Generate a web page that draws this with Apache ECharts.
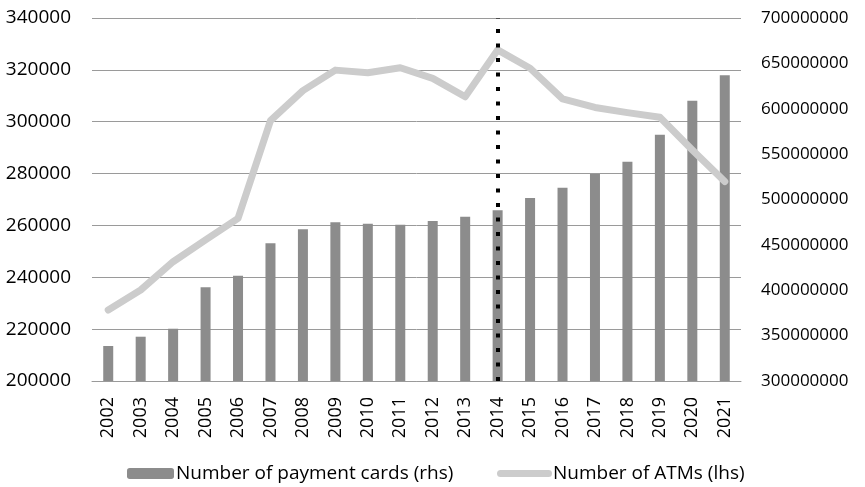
<!DOCTYPE html>
<html>
<head>
<meta charset="utf-8">
<script src="https://cdn.jsdelivr.net/npm/echarts@6/dist/echarts.min.js"></script>
<style>
  html, body { margin: 0; padding: 0; background: #fff; }
  #chart { width: 865px; height: 487px; }
</style>
</head>
<body>
<div id="chart"></div>
<script>
// years on the category axis
const years = ['2002','2003','2004','2005','2006','2007','2008','2009','2010','2011',
               '2012','2013','2014','2015','2016','2017','2018','2019','2020','2021'];

// number of payment cards, right-hand scale
const paymentCards = [338600000, 348800000, 357600000, 403300000, 416000000, 451700000,
                      467200000, 474900000, 473300000, 472200000, 476300000, 481000000,
                      488100000, 501700000, 513000000, 528100000, 541700000, 571400000,
                      608900000, 636900000];

// number of ATMs, left-hand scale
const atms = [227400, 235100, 246000, 254400, 262750, 300400, 312000, 319900, 318900, 320800,
              316700, 309600, 327700, 320600, 308800, 305500, 303500, 301700, 289100, 276900];

const markYear = '2014';

const font = 'Open Sans';
const plain = v => String(v);   // no thousands separators
const capsule = 'path://M3.5,0 H51.5 A3.5,3.5 0 0 1 51.5,7 H3.5 A3.5,3.5 0 0 1 3.5,0 Z';

const chart = echarts.init(document.getElementById('chart'));

const option = {
  animation: false,
  textStyle: { fontFamily: font, color: '#000' },
  grid: { left: 92, right: 124, top: 18, bottom: 106 },
  legend: [
    {
      data: ['Number of payment cards (rhs)'],
      left: 127, top: 464,
      itemWidth: 47, itemHeight: 11, itemGap: 0, padding: 0,
      textStyle: { fontFamily: font, fontSize: 19, color: '#000', padding: [0, 0, 0, -3] }
    },
    {
      data: [{ name: 'Number of ATMs (lhs)', icon: capsule }],
      left: 497, top: 464,
      itemWidth: 55, itemHeight: 7, itemGap: 0, padding: 0,
      textStyle: { fontFamily: font, fontSize: 19, color: '#000', padding: [0, 0, 0, -4] }
    }
  ],
  xAxis: {
    type: 'category',
    data: years,
    axisLine: { lineStyle: { color: '#9a9a9a', width: 1 } },
    axisTick: { show: false },
    axisLabel: { rotate: 90, margin: 16, fontSize: 18, color: '#000', fontFamily: font }
  },
  yAxis: [
    {
      type: 'value',
      min: 200000, max: 340000, interval: 20000,
      axisLine: { show: false },
      axisTick: { show: false },
      splitLine: { lineStyle: { color: '#9a9a9a', width: 1 } },
      axisLabel: { margin: 21, fontSize: 19, color: '#000', fontFamily: font, formatter: plain }
    },
    {
      type: 'value',
      min: 300000000, max: 700000000, interval: 50000000,
      axisLine: { show: false },
      axisTick: { show: false },
      splitLine: { show: false },
      axisLabel: { margin: 20, fontSize: 17, color: '#000', fontFamily: font, formatter: plain }
    }
  ],
  series: [
    {
      name: 'Number of payment cards (rhs)',
      type: 'bar',
      yAxisIndex: 1,
      barWidth: 10,
      itemStyle: { color: '#8c8c8c' },
      data: paymentCards
    },
    {
      name: 'Number of ATMs (lhs)',
      type: 'line',
      yAxisIndex: 0,
      symbol: 'none',
      lineStyle: { color: '#cccccc', width: 7, cap: 'round', join: 'round' },
      itemStyle: { color: '#cccccc' },
      data: atms,
      markLine: {
        silent: true,
        symbol: ['none', 'none'],
        label: { show: false },
        lineStyle: { color: '#000', width: 4, type: [4, 10.5], opacity: 1 },
        data: [{ xAxis: markYear }]
      }
    }
  ]
};

chart.setOption(option);
</script>
</body>
</html>
